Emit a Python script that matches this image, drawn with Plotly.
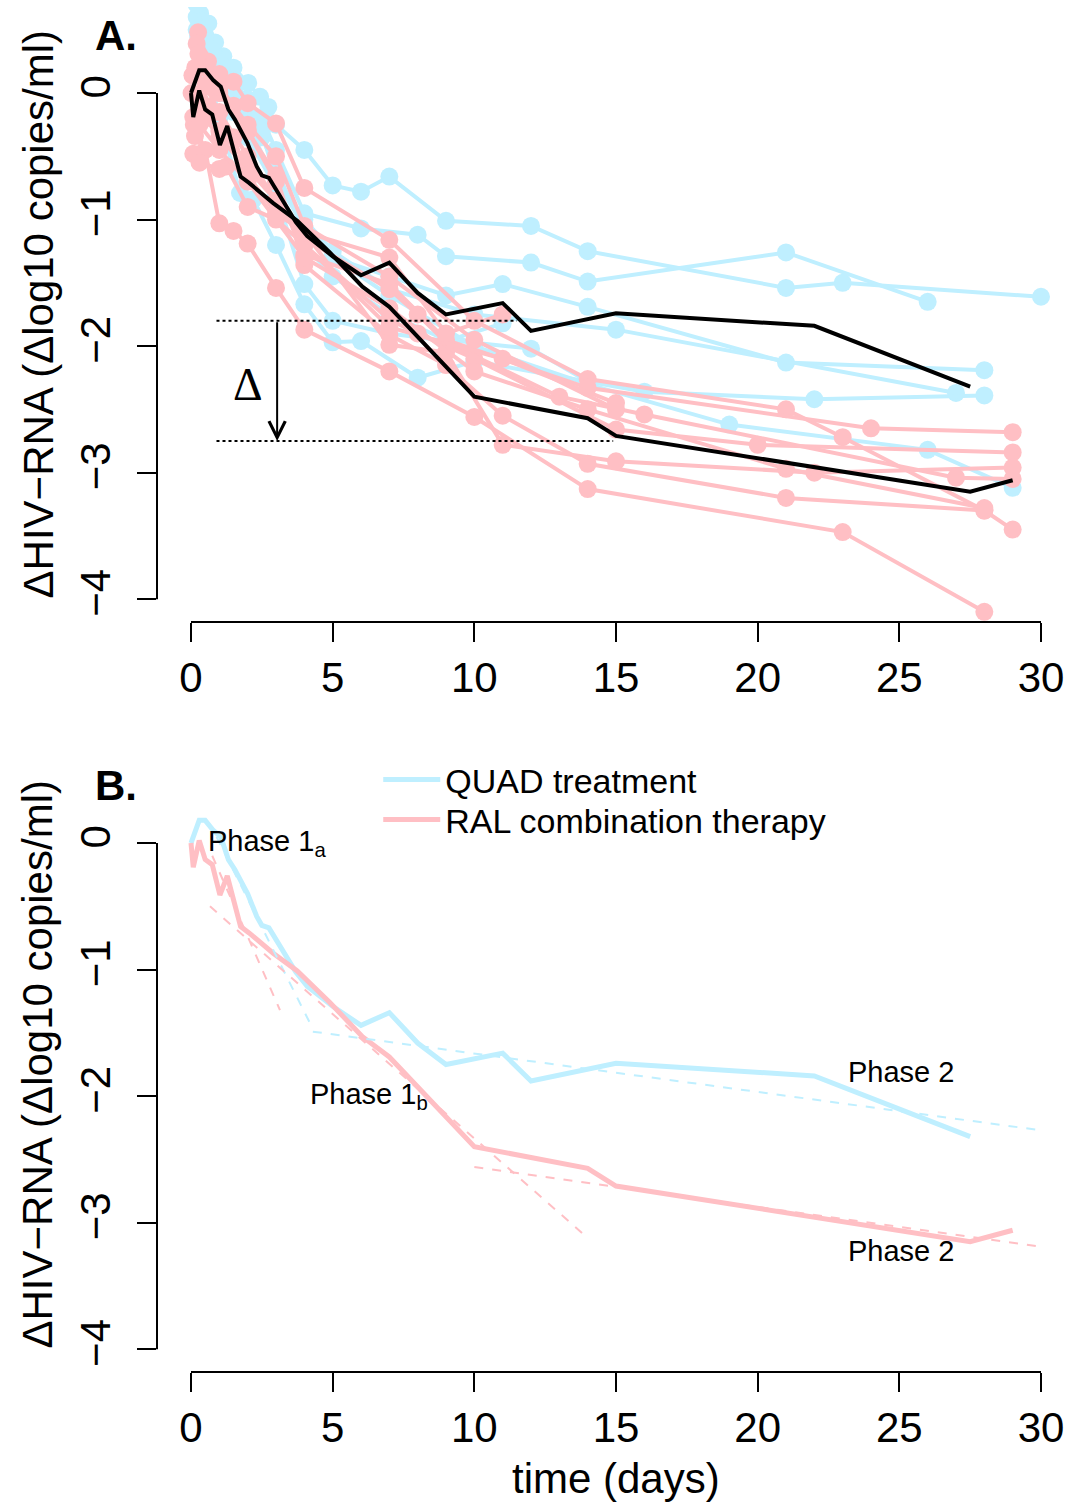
import plotly.graph_objects as go

BLUE = "#BFEFFF"
PINK = "#FFBFC4"
FONT = "Liberation Sans"

# ---------------- data: individual patients (panel A) ----------------
quad_patients = [
    ([0.2, 0.32, 0.61, 0.85, 1.14, 1.5, 2.02, 2.44, 2.73, 3, 4, 5, 6, 7, 9, 12, 14, 21, 23, 30],
     [0.8, 0.63, 0.55, 0.40, 0.29, 0.2, 0.08, -0.03, -0.11, -0.25, -0.45, -0.73, -0.78, -0.66, -1.01, -1.05, -1.25, -1.54, -1.50, -1.61]),
    ([0.2, 0.5, 0.8, 1.1, 1.5, 2, 2.5, 3, 4, 6, 8, 9, 12, 14, 21, 26],
     [0.5, 0.45, 0.3, 0.2, 0.05, -0.05, -0.2, -0.45, -0.95, -1.07, -1.12, -1.29, -1.34, -1.49, -1.26, -1.65]),
    ([0.3, 0.6, 0.9, 1.2, 1.6, 2, 2.5, 3, 4, 5, 7, 9, 11, 14, 21, 28],
     [0.3, 0.25, 0.1, 0.0, -0.1, -0.2, -0.35, -0.6, -1.1, -1.3, -1.45, -1.6, -1.51, -1.69, -2.13, -2.19]),
    ([0.2, 0.5, 1, 1.5, 2, 2.5, 3, 4, 5, 7, 10, 15, 27],
     [0.6, 0.4, 0.25, 0.1, -0.05, -0.3, -0.7, -1.0, -1.25, -1.55, -1.75, -1.87, -2.37]),
    ([0.3, 0.6, 1, 1.5, 2, 3, 4, 5, 7, 9, 12, 14],
     [0.2, 0.1, 0.0, -0.15, -0.35, -0.75, -1.2, -1.45, -1.75, -1.95, -2.02, -2.28]),
    ([0.25, 0.5, 1, 1.5, 2, 3, 4, 5, 7, 10, 14, 19, 26, 29],
     [0.45, 0.35, 0.1, -0.05, -0.25, -0.7, -1.05, -1.3, -1.6, -2.0, -2.3, -2.62, -2.82, -3.12]),
    ([0.3, 0.6, 1, 1.73, 2.2, 3, 4, 5, 6, 8, 10, 16, 22, 28],
     [0.35, 0.2, -0.2, -0.79, -0.84, -1.2, -1.67, -1.97, -1.96, -2.25, -2.12, -2.36, -2.42, -2.39]),
    ([0.2, 0.4, 0.7, 1, 1.5, 2, 3, 4, 5, 7, 9, 11],
     [0.7, 0.5, 0.35, 0.2, 0.0, -0.2, -0.8, -1.51, -1.8, -1.9, -1.96, -1.82]),
]

ral_patients = [
    ([0.1, 0.5, 1, 1.5, 2, 3, 4, 7, 10, 14, 23, 28],
     [-0.25, -0.45, -1.03, -1.09, -1.19, -1.54, -1.87, -2.2, -2.56, -3.13, -3.47, -4.1]),
    ([0.05, 0.3, 1, 1.5, 2, 3, 4, 7, 9, 11, 14, 21, 28],
     [0.14, 0.3, 0.05, -0.1, -0.3, -0.65, -1.36, -1.91, -2.15, -2.55, -2.93, -3.2, -3.3]),
    ([0.25, 0.6, 1, 1.5, 2, 3, 4, 7, 10, 14, 21, 23, 28, 29],
     [0.48, 0.25, 0.15, 0.09, -0.08, -0.24, -0.75, -1.16, -1.8, -2.26, -2.5, -2.72, -3.3, -3.45]),
    ([0.2, 0.5, 1, 2, 3, 4, 7, 9, 14, 24, 29],
     [0.39, 0.2, 0.0, -0.3, -0.7, -1.28, -1.51, -1.95, -2.33, -2.65, -2.68]),
    ([0.08, 0.3, 1, 1.25, 2, 3, 4, 7, 8, 10, 15, 20, 29],
     [-0.48, -0.55, -0.6, -0.58, -0.9, -1.0, -1.2, -1.79, -1.9, -2.1, -2.66, -2.78, -2.84]),
    ([0.14, 0.5, 1, 2, 4, 7, 9, 11, 15, 22, 29],
     [-0.34, -0.2, -0.35, -0.6, -1.1, -1.99, -2.05, -2.78, -2.91, -3.0, -2.96]),
    ([0.02, 0.5, 1, 2, 3, 4, 7, 8, 9, 13, 16, 27, 29],
     [0.0, -0.1, -0.3, -0.55, -0.85, -1.15, -1.55, -1.75, -1.97, -2.40, -2.54, -3.04, -3.05]),
    ([0.08, 0.3, 1, 2, 4, 7, 10, 14, 21, 28],
     [-0.19, -0.25, -0.45, -0.7, -1.3, -1.7, -2.2, -2.5, -2.97, -3.28]),
    ([0.26, 0.7, 1, 2, 3, 4, 7, 10, 15],
     [0.31, 0.1, 0.05, -0.25, -0.5, -1.05, -1.45, -1.95, -2.5]),
    ([0.15, 0.5, 1, 2, 4, 7, 11, 15],
     [0.2, 0.05, -0.15, -0.5, -1.2, -1.85, -2.1, -2.45]),
    ([0.3, 0.8, 1.5, 2, 3, 4, 7, 9, 11],
     [-0.05, -0.15, -0.35, -0.65, -0.95, -1.1, -1.3, -1.9, -1.75]),
]

# ---------------- data: group means ----------------
quad_mean_t = [0, 0.29, 0.5, 0.79, 1.05, 1.32, 1.55, 2.0, 2.32, 2.5, 2.75, 3.2, 3.7, 4.1, 5, 6, 7, 8, 9, 11, 12, 15, 22, 27.5]
quad_mean_y = [0, 0.18, 0.18, 0.10, 0.05, -0.13, -0.21, -0.40, -0.58, -0.65, -0.67, -0.84, -1.02, -1.13, -1.29, -1.44, -1.34, -1.58, -1.75, -1.66, -1.88, -1.74, -1.84, -2.32]

ral_mean_t = [0, 0.08, 0.29, 0.5, 0.75, 1.02, 1.28, 1.75, 2.05, 2.9, 3.75, 4.9, 6.05, 7, 10, 14, 15, 27.5, 29]
ral_mean_y = [0, -0.19, 0.02, -0.13, -0.17, -0.41, -0.26, -0.66, -0.71, -0.87, -1.01, -1.26, -1.53, -1.69, -2.40, -2.57, -2.71, -3.15, -3.06]

# ---------------- data: phase fits (panel B) ----------------
quad_phase1a_t = [0.9, 4.26]
quad_phase1a_y = [0.05, -1.45]
quad_phase2_t = [4.3, 30]
quad_phase2_y = [-1.49, -2.27]
ral_phase1a_t = [0.75, 3.14]
ral_phase1a_y = [-0.1, -1.32]
ral_phase1b_t = [0.67, 14]
ral_phase1b_y = [-0.5, -3.12]
ral_phase2_t = [10, 30]
ral_phase2_y = [-2.56, -3.19]

# Delta reference lines (panel A)
delta_upper_t = [0.9, 11.5]
delta_upper_y = [-1.80, -1.80]
delta_lower_t = [0.9, 14.9]
delta_lower_y = [-2.75, -2.75]
delta_arrow_t = 3.04

x_ticks = [0, 5, 10, 15, 20, 25, 30]
y_ticks = [0, -1, -2, -3, -4]
y_ticktext = ["0", "\u22121", "\u22122", "\u22123", "\u22124"]
x_range = [-1.2, 31.2]
y_range = [-4.18, 0.68]

fig = go.Figure()

# Panel A patients
for t, y in quad_patients:
    fig.add_trace(go.Scatter(x=t, y=y, mode="lines+markers", xaxis="x", yaxis="y",
                             line=dict(color=BLUE, width=4), marker=dict(color=BLUE, size=18),
                             showlegend=False, hoverinfo="skip"))
for t, y in ral_patients:
    fig.add_trace(go.Scatter(x=t, y=y, mode="lines+markers", xaxis="x", yaxis="y",
                             line=dict(color=PINK, width=4), marker=dict(color=PINK, size=18),
                             showlegend=False, hoverinfo="skip"))
# Panel A means
for t, y in [(quad_mean_t, quad_mean_y), (ral_mean_t, ral_mean_y)]:
    fig.add_trace(go.Scatter(x=t, y=y, mode="lines", xaxis="x", yaxis="y",
                             line=dict(color="black", width=4), showlegend=False, hoverinfo="skip"))
# Delta dotted lines
for t, y in [(delta_upper_t, delta_upper_y), (delta_lower_t, delta_lower_y)]:
    fig.add_trace(go.Scatter(x=t, y=y, mode="lines", xaxis="x", yaxis="y",
                             line=dict(color="black", width=2, dash="dot"), showlegend=False, hoverinfo="skip"))

# Panel B
fig.add_trace(go.Scatter(x=quad_mean_t, y=quad_mean_y, mode="lines", xaxis="x2", yaxis="y2",
                         line=dict(color=BLUE, width=5), name="QUAD treatment", legend="legend"))
fig.add_trace(go.Scatter(x=ral_mean_t, y=ral_mean_y, mode="lines", xaxis="x2", yaxis="y2",
                         line=dict(color=PINK, width=5), name="RAL combination therapy", legend="legend2"))
for t, y, c in [(quad_phase1a_t, quad_phase1a_y, BLUE), (quad_phase2_t, quad_phase2_y, BLUE),
                (ral_phase1a_t, ral_phase1a_y, PINK), (ral_phase1b_t, ral_phase1b_y, PINK),
                (ral_phase2_t, ral_phase2_y, PINK)]:
    fig.add_trace(go.Scatter(x=t, y=y, mode="lines", xaxis="x2", yaxis="y2",
                             line=dict(color=c, width=2, dash="dash"), showlegend=False, hoverinfo="skip"))

axis_common = dict(showgrid=False, zeroline=False, showline=False, ticks="outside", automargin=False,
                   ticklen=19, tickwidth=2, tickcolor="black",
                   tickfont=dict(family=FONT, size=42, color="black"))

legend_common = dict(xanchor="left", yanchor="middle", bgcolor="rgba(0,0,0,0)",
                     font=dict(family=FONT, size=34, color="black"), itemwidth=57)

fig.update_layout(
    width=1081, height=1504,
    margin=dict(l=157, r=6, t=7, b=132),
    plot_bgcolor="white", paper_bgcolor="white",
    xaxis=dict(domain=[0, 1], range=x_range, anchor="y", tickvals=x_ticks, **axis_common),
    yaxis=dict(domain=[0.5495, 1], range=y_range, anchor="x", tickvals=y_ticks,
               ticktext=y_ticktext, tickangle=-90, ticklabelstandoff=10, **axis_common),
    xaxis2=dict(domain=[0, 1], range=x_range, anchor="y2", tickvals=x_ticks, **axis_common),
    yaxis2=dict(domain=[0, 0.4505], range=y_range, anchor="x2", tickvals=y_ticks,
                ticktext=y_ticktext, tickangle=-90, ticklabelstandoff=10, **axis_common),
    legend=dict(x=0.241, y=0.4337, **legend_common),
    legend2=dict(x=0.241, y=0.4044, **legend_common),
    showlegend=True,
)

# R-style axis lines spanning only the tick range
for xa, ya in [("x", "y"), ("x2", "y2")]:
    fig.add_shape(type="line", xref=xa, yref=ya + " domain", x0=0, x1=30, y0=0, y1=0,
                  line=dict(color="black", width=2))
    fig.add_shape(type="line", xref=xa + " domain", yref=ya, x0=0, x1=0, y0=-4, y1=0,
                  line=dict(color="black", width=2))

ytitle = "\u0394HIV\u2212RNA (\u0394log10 copies/ml)"
big = dict(family=FONT, size=42, color="black")
small = dict(family=FONT, size=29, color="black")
ann = [
    dict(text=ytitle, xref="paper", yref="y domain", x=0, y=0.5, xshift=-119, textangle=-90,
         xanchor="center", yanchor="middle", showarrow=False, font=big),
    dict(text=ytitle, xref="paper", yref="y2 domain", x=0, y=0.5, xshift=-119, textangle=-90,
         xanchor="center", yanchor="middle", showarrow=False, font=big),
    dict(text="time (days)", xref="x2", yref="paper", x=15, y=0, yshift=-106,
         xanchor="center", yanchor="middle", showarrow=False, font=big),
    dict(text="<b>A.</b>", xref="paper", yref="y domain", x=0, y=1, xshift=-41, yshift=-28,
         xanchor="center", yanchor="middle", showarrow=False, font=big),
    dict(text="<b>B.</b>", xref="paper", yref="y2 domain", x=0, y=1, xshift=-41, yshift=-28,
         xanchor="center", yanchor="middle", showarrow=False, font=big),
    dict(text="\u0394", xref="x", yref="y", x=2.0, y=-2.3, showarrow=False,
         font=dict(family="Liberation Serif", size=46, color="black")),
    dict(text="", xref="x", yref="y", x=delta_arrow_t, y=delta_lower_y[0], ax=delta_arrow_t, ay=delta_upper_y[0],
         axref="x", ayref="y", showarrow=True, arrowhead=5, arrowsize=1.6, arrowwidth=2, arrowcolor="black"),
    dict(text="Phase 1<sub>a</sub>", xref="x2", yref="y2", x=0.53, y=0.0, xanchor="left", yanchor="middle",
         showarrow=False, font=small),
    dict(text="Phase 1<sub>b</sub>", xref="x2", yref="y2", x=4.13, y=-2.0, xanchor="left", yanchor="middle",
         showarrow=False, font=small),
    dict(text="Phase 2", xref="x2", yref="y2", x=23.1, y=-1.81, xanchor="left", yanchor="middle",
         showarrow=False, font=small),
    dict(text="Phase 2", xref="x2", yref="y2", x=23.1, y=-3.22, xanchor="left", yanchor="middle",
         showarrow=False, font=small),
]
fig.update_layout(annotations=ann)

fig.write_html("out.html", config={"displayModeBar": False},
               post_script="document.body.style.margin='0';")
